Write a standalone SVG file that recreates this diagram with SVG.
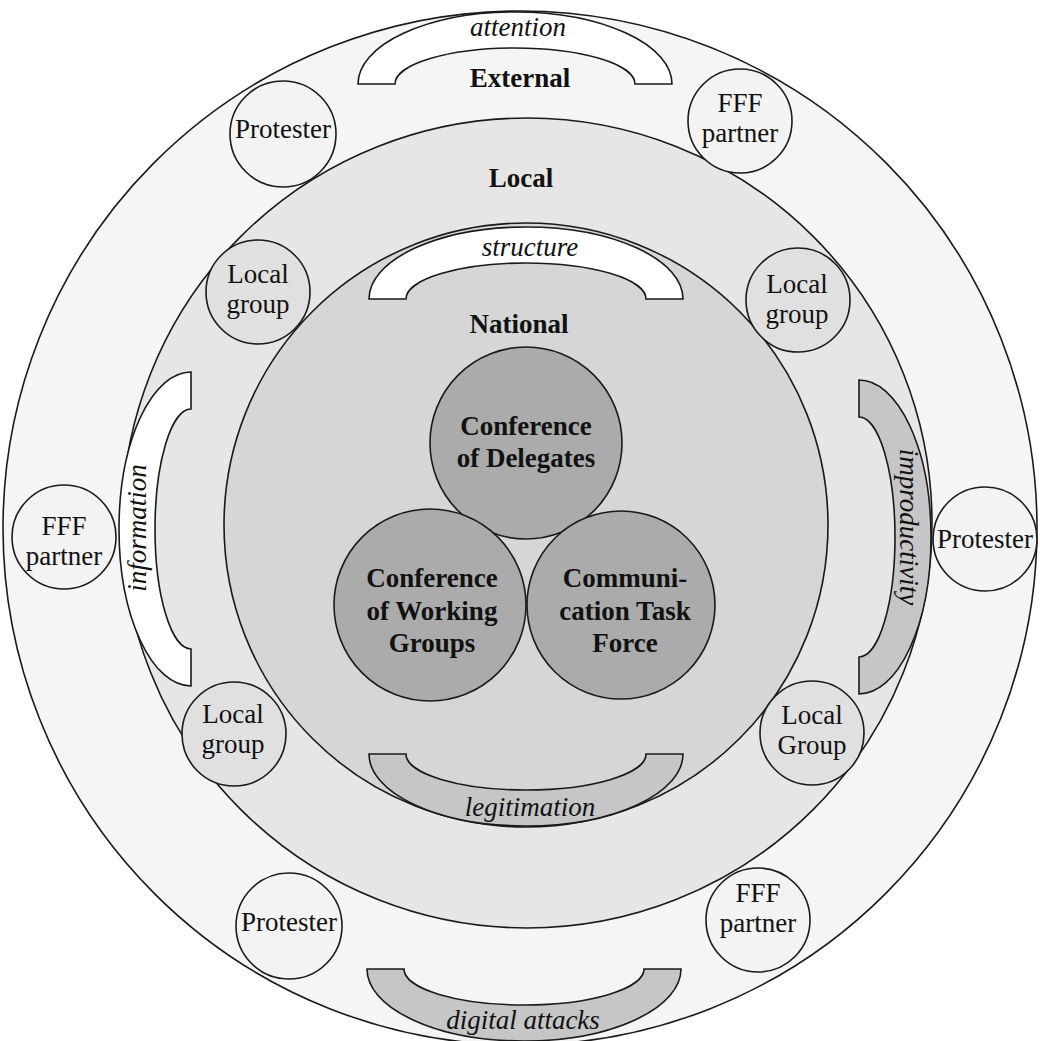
<svg xmlns="http://www.w3.org/2000/svg" width="1040" height="1041" viewBox="0 0 1040 1041">
<style>
text{font-family:"Liberation Serif","Times New Roman",serif;font-size:27px;fill:#111;text-anchor:middle}
.b{font-weight:bold}
.i{font-style:italic}
.ln{stroke:#1a1a1a;stroke-width:1.6}
.ring{fill:#f3f3f3}
.loc{fill:#e0e0e0}
.core{fill:#ababab}
.arcw{fill:#ffffff}
.arcg{fill:#c6c6c6}
</style>
<defs>
<path id="barc" d="M -157,0 A 157,72 0 0 1 157,0 L 120,0 A 120,36 0 0 0 -120,0 Z"/>
</defs>
<rect width="1040" height="1041" fill="#ffffff"/>
<g id="layer-external">
<circle class="ln" cx="520" cy="528" r="517" fill="#f5f5f5"/>
<text class="b" x="520" y="87">External</text>
</g>
<g id="layer-local">
<circle class="ln" cx="527" cy="523" r="405" fill="#e6e6e6"/>
<text class="b" x="521" y="187">Local</text>
</g>
<g id="layer-national">
<circle class="ln" cx="526" cy="525" r="302" fill="#d6d6d6"/>
<text class="b" x="519" y="333">National</text>
</g>
<g id="arcs">
<g id="arc-attention"><use href="#barc" class="ln arcw" transform="translate(515,84)"/><text class="i" x="518" y="36">attention</text></g>
<g id="arc-structure"><use href="#barc" class="ln arcw" transform="translate(526,299)"/><text class="i" x="530" y="256">structure</text></g>
<g id="arc-legitimation"><use href="#barc" class="ln arcg" transform="translate(526,754) rotate(180)"/><text class="i" x="530" y="816">legitimation</text></g>
<g id="arc-digital"><use href="#barc" class="ln arcg" transform="translate(524,969) rotate(180)"/><text class="i" x="523" y="1029">digital attacks</text></g>
<g id="arc-information"><use href="#barc" class="ln arcw" transform="translate(191,529) rotate(-90)"/><text class="i" transform="translate(146,528) rotate(-90)">information</text></g>
<g id="arc-improductivity"><use href="#barc" class="ln arcg" transform="translate(859,537) rotate(90)"/><text class="i" transform="translate(900,527) rotate(90)">improductivity</text></g>
</g>
<g id="node-delegates"><circle class="ln core" cx="526" cy="443" r="96"/><text class="b" x="526" y="435">Conference</text><text class="b" x="526" y="467">of Delegates</text></g>
<g id="node-working"><circle class="ln core" cx="430" cy="605" r="96"/><text class="b" x="432" y="587">Conference</text><text class="b" x="432" y="620">of Working</text><text class="b" x="432" y="652">Groups</text></g>
<g id="node-ctf"><circle class="ln core" cx="621" cy="605" r="94"/><text class="b" x="625" y="587">Communi-</text><text class="b" x="625" y="620">cation Task</text><text class="b" x="625" y="652">Force</text></g>
<g id="node-protester-tl"><circle class="ln ring" cx="283" cy="134" r="53"/><text x="283" y="138">Protester</text></g>
<g id="node-fff-tr"><circle class="ln ring" cx="740" cy="121" r="52"/><text x="740" y="112">FFF</text><text x="740" y="142">partner</text></g>
<g id="node-local-tl"><circle class="ln loc" cx="258" cy="292" r="52"/><text x="258" y="283">Local</text><text x="258" y="313">group</text></g>
<g id="node-local-tr"><circle class="ln loc" cx="798" cy="300" r="52"/><text x="797" y="293">Local</text><text x="797" y="323">group</text></g>
<g id="node-fff-l"><circle class="ln ring" cx="64" cy="537" r="52"/><text x="64" y="535">FFF</text><text x="64" y="565">partner</text></g>
<g id="node-protester-r"><circle class="ln ring" cx="985" cy="539" r="52"/><text x="985" y="548">Protester</text></g>
<g id="node-local-bl"><circle class="ln loc" cx="234" cy="734" r="52"/><text x="233" y="723">Local</text><text x="233" y="753">group</text></g>
<g id="node-local-br"><circle class="ln loc" cx="812" cy="733" r="52"/><text x="812" y="724">Local</text><text x="812" y="754">Group</text></g>
<g id="node-protester-bl"><circle class="ln ring" cx="289" cy="926" r="53"/><text x="289" y="931">Protester</text></g>
<g id="node-fff-br"><circle class="ln ring" cx="758" cy="920" r="52"/><text x="758" y="902">FFF</text><text x="758" y="932">partner</text></g>
</svg>
